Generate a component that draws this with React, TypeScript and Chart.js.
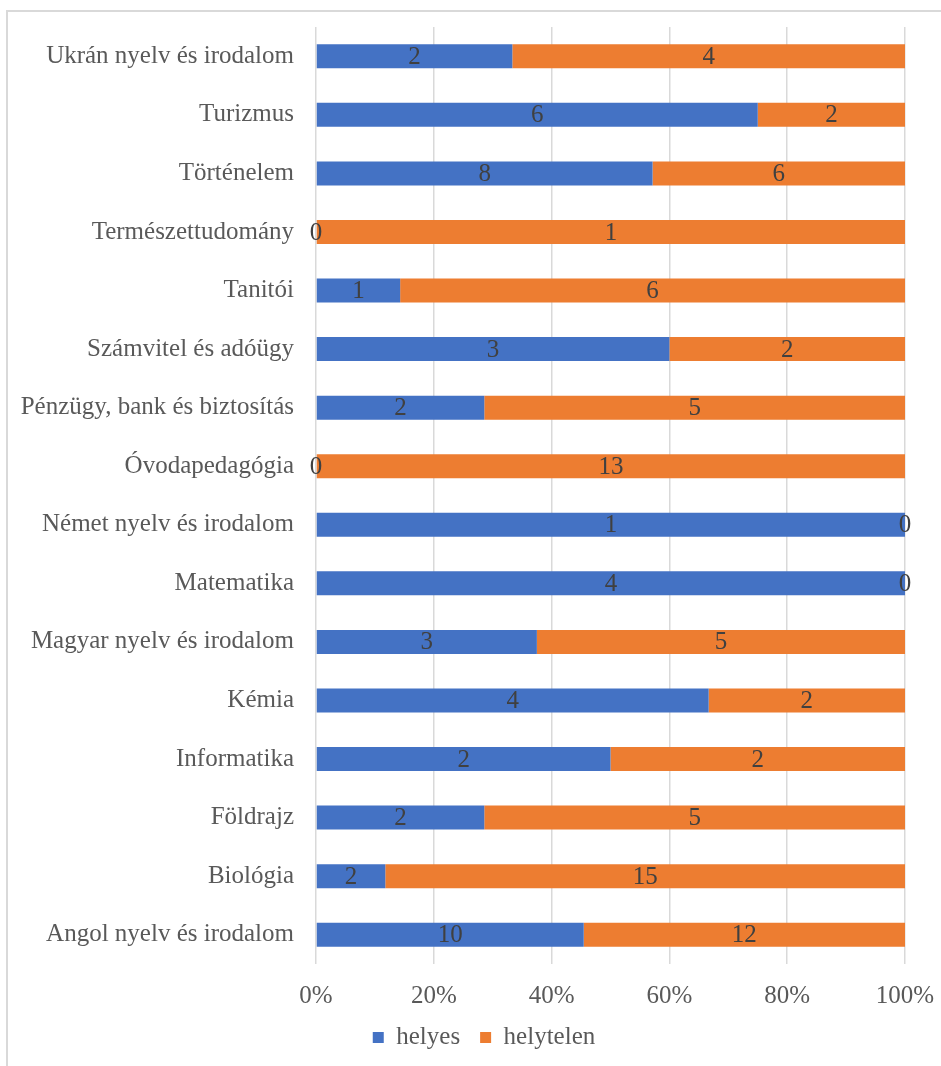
import React, { useEffect, useRef } from "react";
import { Chart, registerables } from "chart.js";

Chart.register(...registerables);

const categories = [
  "Ukrán nyelv és irodalom",
  "Turizmus",
  "Történelem",
  "Természettudomány",
  "Tanitói",
  "Számvitel és adóügy",
  "Pénzügy, bank és biztosítás",
  "Óvodapedagógia",
  "Német nyelv és irodalom",
  "Matematika",
  "Magyar nyelv és irodalom",
  "Kémia",
  "Informatika",
  "Földrajz",
  "Biológia",
  "Angol nyelv és irodalom",
];

const helyes = [2, 6, 8, 0, 1, 3, 2, 0, 1, 4, 3, 4, 2, 2, 2, 10];
const helytelen = [4, 2, 6, 1, 6, 2, 5, 13, 0, 0, 5, 2, 2, 5, 15, 12];

const seriesNames = ["helyes", "helytelen"];
const seriesColors = ["#4472C4", "#ED7D31"];
const xTicks = [0, 20, 40, 60, 80, 100];

const FONT = "'Liberation Serif', 'Times New Roman', serif";

export default function App() {
  const ref = useRef<HTMLCanvasElement | null>(null);

  useEffect(() => {
    if (!ref.current) return;
    const counts = [helyes, helytelen];
    const totals = categories.map((_, i) => helyes[i] + helytelen[i]);
    const pct = counts.map((arr) => arr.map((v, i) => (totals[i] ? (v / totals[i]) * 100 : 0)));

    const labelPlugin = {
      id: "barLabels",
      afterLayout(chart: any) {
        if (chart.legend) chart.legend.left += 55;
      },
      afterDatasetsDraw(chart: any) {
        const ctx = chart.ctx;
        ctx.save();
        ctx.font = `25px ${FONT}`;
        ctx.fillStyle = "#404040";
        ctx.textAlign = "center";
        ctx.textBaseline = "middle";
        chart.data.datasets.forEach((_: any, di: number) => {
          const meta = chart.getDatasetMeta(di);
          meta.data.forEach((el: any, i: number) => {
            const x = (el.x + el.base) / 2;
            ctx.fillText(String(counts[di][i]), x, el.y + 1);
          });
        });
        ctx.restore();
      },
    };

    const chart = new Chart(ref.current, {
      type: "bar",
      data: {
        labels: categories,
        datasets: seriesNames.map((name, di) => ({
          label: name,
          data: pct[di],
          backgroundColor: seriesColors[di],
          borderWidth: 0,
          barPercentage: 0.41,
          categoryPercentage: 1,
        })),
      },
      options: {
        indexAxis: "y",
        responsive: false,
        animation: false,
        layout: { padding: { top: 15, bottom: 6, left: 0, right: 58 } },
        scales: {
          x: {
            stacked: true,
            min: 0,
            max: 100,
            afterBuildTicks: (scale: any) => {
              scale.ticks = xTicks.map((v) => ({ value: v }));
            },
            afterFit: (scale: any) => {
              scale.height = 41;
            },
            ticks: {
              callback: (v: any) => `${v}%`,
              color: "#595959",
              font: { family: FONT, size: 25 },
              padding: 17,
            },
            grid: { color: "#d9d9d9", lineWidth: 1.5, drawTicks: false, tickLength: 0 },
            border: { display: false },
          },
          y: {
            stacked: true,
            afterFit: (scale: any) => {
              scale.width = 308;
              scale.paddingTop = 0;
              scale.paddingBottom = 0;
            },
            ticks: {
              autoSkip: false,
              color: "#595959",
              font: { family: FONT, size: 25 },
              padding: 22,
            },
            grid: { display: false, drawTicks: false },
            border: { display: false },
          },
        },
        plugins: {
          legend: {
            position: "bottom",
            labels: {
              color: "#595959",
              font: { family: FONT, size: 25 },
              boxWidth: 11,
              boxHeight: 11,
              padding: 20,
            },
          },
          tooltip: { enabled: false },
        },
      },
      plugins: [labelPlugin],
    } as any);
    return () => chart.destroy();
  }, []);

  return (
    <div
      style={{
        position: "fixed",
        left: 0,
        top: 0,
        width: 941,
        height: 1066,
        overflow: "hidden",
        background: "#fff",
      }}
    >
      <div
        style={{
          position: "absolute",
          left: 6,
          top: 10,
          width: 960,
          height: 1070,
          borderTop: "2px solid #d9d9d9",
          borderLeft: "2px solid #d9d9d9",
        }}
      >
        <canvas ref={ref} width={955} height={1054} style={{ display: "block" }} />
      </div>
    </div>
  );
}
